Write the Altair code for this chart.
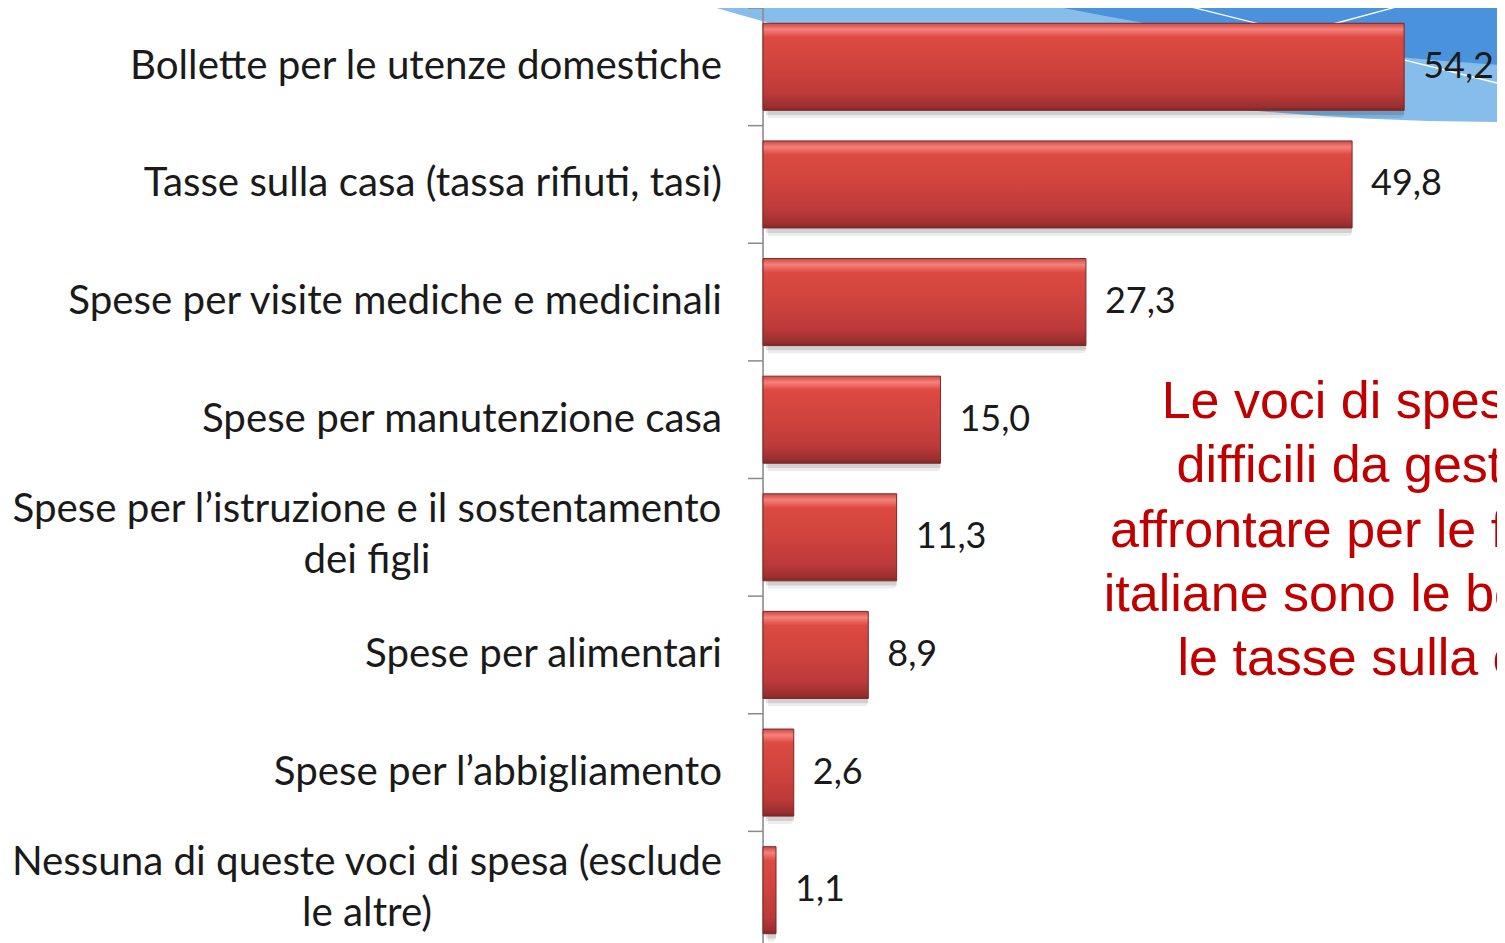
import altair as alt
import pandas as pd

categories = [
    "Bollette per le utenze domestiche",
    "Tasse sulla casa (tassa rifiuti, tasi)",
    "Spese per visite mediche e medicinali",
    "Spese per manutenzione casa",
    "Spese per l’istruzione e il sostentamento dei figli",
    "Spese per alimentari",
    "Spese per l’abbigliamento",
    "Nessuna di queste voci di spesa (esclude le altre)",
]
label_lines = [
    ["Bollette per le utenze domestiche"],
    ["Tasse sulla casa (tassa rifiuti, tasi)"],
    ["Spese per visite mediche e medicinali"],
    ["Spese per manutenzione casa"],
    ["Spese per l’istruzione e il sostentamento", "dei figli"],
    ["Spese per alimentari"],
    ["Spese per l’abbigliamento"],
    ["Nessuna di queste voci di spesa (esclude", "le altre)"],
]
values = [54.2, 49.8, 27.3, 15.0, 11.3, 8.9, 2.6, 1.1]

note_lines = [
    "Le voci di spesa più",
    "difficili da gestire e",
    "affrontare per le famiglie",
    "italiane sono le bollette e",
    "le tasse sulla casa",
]

df = pd.DataFrame({"cat": categories, "v": values, "lines": label_lines})

LABEL_FONT = "Lato"
LABEL_SIZE = 40.3

y_enc = alt.Y("cat:N", sort=categories, axis=None,
              scale=alt.Scale(paddingInner=0.26, paddingOuter=0.13))
x_scale = alt.Scale(domain=[0, 62.05], nice=False, zero=True)

base = alt.Chart(df)
one = base.transform_filter("datum.cat == '%s'" % categories[0])

# decorative background swooshes (template art, top-right)
R1 = 2783
R2 = 3241
deco1 = one.mark_point(
    shape="circle", filled=True, color="#86bdea", opacity=1, strokeWidth=0
).encode(x=alt.value(742), y=alt.value(-2669), size=alt.value(4 * R1 * R1))
deco2 = one.mark_point(
    shape="circle", filled=True, color="#4a92db", opacity=1, strokeWidth=0
).encode(x=alt.value(937), y=alt.value(-3179), size=alt.value(4 * R2 * R2))
wl1 = one.mark_rule(color="white", strokeWidth=1.3).encode(
    x=alt.value(400), y=alt.value(-8), x2=alt.value(742), y2=alt.value(77))
wl2 = one.mark_rule(color="white", strokeWidth=1.3).encode(
    x=alt.value(559), y=alt.value(19), x2=alt.value(659), y2=alt.value(-8))

# category boundary ticks (at step boundaries)
ticks = base.mark_rule(color="#8a8a8a", strokeWidth=1.5, yOffset=-15.29).encode(
    y=alt.Y("cat:N", sort=categories, axis=None, bandPosition=0,
            scale=alt.Scale(paddingInner=0.26, paddingOuter=0.13)),
    x=alt.value(-15), x2=alt.value(0),
)

# axis line
axis_line = one.mark_rule(color="#8a8a8a", strokeWidth=1.5).encode(
    x=alt.value(0), y=alt.value(0), y2=alt.value(960)
)

shadow1 = base.mark_bar(color="#000000", opacity=0.07, xOffset=5, yOffset=8,
                        cornerRadius=4).encode(
    x=alt.X("v:Q", scale=x_scale, axis=None), y=y_enc
)
shadow2 = base.mark_bar(color="#000000", opacity=0.12, xOffset=3, yOffset=5,
                        cornerRadius=2).encode(
    x=alt.X("v:Q", scale=x_scale, axis=None), y=y_enc
)

grad = alt.Gradient(
    gradient="linear", x1=0, x2=0, y1=0, y2=1,
    stops=[
        alt.GradientStop(color="#c94a44", offset=0),
        alt.GradientStop(color="#f6817a", offset=0.07),
        alt.GradientStop(color="#dc4a42", offset=0.16),
        alt.GradientStop(color="#d2443e", offset=0.45),
        alt.GradientStop(color="#bd3a3a", offset=0.8),
        alt.GradientStop(color="#9a2f2f", offset=0.96),
        alt.GradientStop(color="#7e2626", offset=1),
    ],
)
bars = base.mark_bar(color=grad, stroke="#7f2727", strokeWidth=1).encode(
    x=alt.X("v:Q", scale=x_scale, axis=None), y=y_enc
)

vals = base.transform_calculate(
    lbl="replace(format(datum.v, '.1f'), '.', ',')"
).mark_text(align="left", baseline="middle", dx=19, font=LABEL_FONT,
            fontSize=36, color="#1a1a1a").encode(
    x=alt.X("v:Q", scale=x_scale, axis=None), y=y_enc, text="lbl:N"
)

labels_single = base.transform_filter("length(datum.lines) == 1").mark_text(
    align="right", baseline="middle", font=LABEL_FONT, fontSize=LABEL_SIZE,
    color="#1a1a1a"
).encode(x=alt.value(-41), y=y_enc, text="lines")

labels_multi = base.transform_filter("length(datum.lines) > 1").mark_text(
    align="center", baseline="middle", font=LABEL_FONT, fontSize=LABEL_SIZE,
    color="#1a1a1a", lineHeight=51, dy=-27
).encode(x=alt.value(-396), y=y_enc, text="lines")

note = one.transform_calculate(
    t="'" + "|".join(note_lines) + "'"
).mark_text(
    align="center", baseline="alphabetic", font="Liberation Sans", fontSize=52,
    color="#c00000", lineHeight=64.25, lineBreak="|"
).encode(x=alt.value(627), y=alt.value(410), text="t:N")

chart = alt.layer(
    deco1, deco2, wl1, wl2, axis_line, ticks, shadow1, shadow2, bars, vals,
    labels_single, labels_multi, note
).properties(
    width=734, height=941,
    padding={"left": 755, "top": 0, "right": 0, "bottom": 0},
    autosize=alt.AutoSizeParams(type="none"),
).configure_view(strokeWidth=0, stroke="transparent", clip=False).configure(background="white")

chart.save("out.html", embed_options={"renderer": "svg", "actions": False})
